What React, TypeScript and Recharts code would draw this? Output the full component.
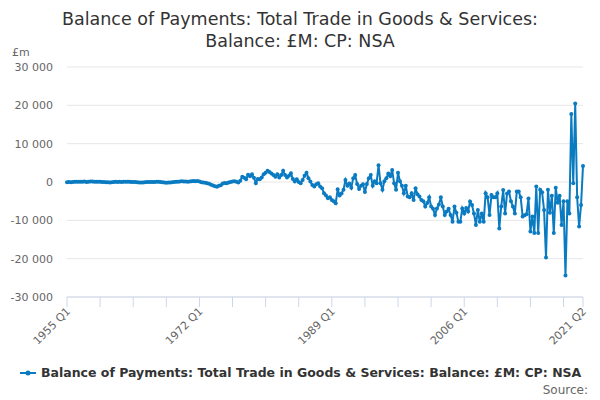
import { LineChart, Line, XAxis, YAxis, CartesianGrid } from 'recharts'

const FONT = '"DejaVu Sans", Verdana, sans-serif'
const BLUE = '#0a7bc1'
const AXIS = '#ccd6eb'

const TITLE = ['Balance of Payments: Total Trade in Goods & Services:', 'Balance: £M: CP: NSA']
const SERIES_NAME = 'Balance of Payments: Total Trade in Goods & Services: Balance: £M: CP: NSA'

// quarterly balance, £m, 1955 Q1 .. 2021 Q2
const balance = [
  -60, 20, -40, 10, // 1955
  50, 80, 40, 90, // 1956
  60, 110, 30, 70, // 1957
  120, 150, 60, 90, // 1958
  40, 80, -10, 20, // 1959
  -80, -50, -120, -60, // 1960
  -30, 40, 20, 60, // 1961
  30, 80, 50, 40, // 1962
  60, 30, -20, 10, // 1963
  -90, -120, -150, -100, // 1964
  -40, 20, 10, -20, // 1965
  10, -30, 60, 40, // 1966
  20, -60, -130, -180, // 1967
  -160, -120, -70, 10, // 1968
  40, 90, 130, 180, // 1969
  120, 160, 60, 140, // 1970
  210, 280, 200, 260, // 1971
  120, -80, -150, -200, // 1972
  -300, -450, -700, -900, // 1973
  -1100, -1250, -1000, -850, // 1974
  -400, -250, -300, -150, // 1975
  0, 150, 200, 50, // 1976
  -100, 350, 1400, 1100, // 1977
  700, 1900, 1500, 2000, // 1978
  1100, -300, 800, 700, // 1979
  1200, 2000, 2400, 2950, // 1980
  2600, 2200, 1800, 1400, // 1981
  2000, 1200, 1800, 2950, // 1982
  1800, 1200, 1600, 2270, // 1983
  800, 100, 700, 0, // 1984
  -350, 500, 1650, 2440, // 1985
  1000, 100, -800, -1200, // 1986
  -600, -350, -1200, -1650, // 1987
  -2950, -3500, -4250, -4000, // 1988
  -4700, -5000, -5560, -1900, // 1989
  -3500, -3000, -2000, 500, // 1990
  -1000, -400, -1500, 1000, // 1991
  1800, -500, -1800, -1000, // 1992
  -600, -2600, -500, 1000, // 1993
  1800, -1000, 200, -300, // 1994
  4400, -300, -2000, 200, // 1995
  1000, 2200, 1500, 3100, // 1996
  -350, -2000, 2400, 200, // 1997
  -1000, -2950, -1000, -3800, // 1998
  -4000, -2950, -4700, -1650, // 1999
  -3200, -3800, -4700, -5000, // 2000
  -6400, -5500, -4000, -6400, // 2001
  -7000, -8600, -6900, -5900, // 2002
  -4000, -6400, -8600, -7700, // 2003
  -7000, -8600, -10360, -6400, // 2004
  -8000, -10400, -10400, -6900, // 2005
  -8200, -6800, -7700, -5100, // 2006
  -6000, -8200, -11200, -7300, // 2007
  -10400, -8200, -10400, -2950, // 2008
  -4000, -8600, -3400, -4000, // 2009
  -4000, -2950, -12100, -6400, // 2010
  -2100, -8200, -3000, -2500, // 2011
  -5000, -6400, -8200, -2500, // 2012
  -2500, -4000, -9000, -8700, // 2013
  -8400, -4300, -12900, -9000, // 2014
  -13300, -1200, -13300, -2000, // 2015
  -2700, -7300, -19700, -2000, // 2016
  -8000, -3600, -13300, -1500, // 2017
  -5400, -3600, -11200, -5000, // 2018
  -24400, -5000, -8200, 17750, // 2019
  -350, 20500, -4000, -11600, // 2020
  -6000, 4200, // 2021
]

const START_YEAR = 1955
const quarters = balance.map((_, i) => `${START_YEAR + Math.floor(i / 4)} Q${(i % 4) + 1}`)

const xTicks = [0, 17, 34, 51, 68, 85, 102, 119, 136, 153, 170, 187, 204, 221, 238, 255, 265]
const labelledTicks = [0, 68, 136, 204, 265]
const yTicks = [-30000, -20000, -10000, 0, 10000, 20000, 30000]

const data = balance.map((v, i) => ({ i, quarter: quarters[i], balance: v }))

const fmt = (v: number) => {
  const s = String(Math.abs(v)).replace(/\B(?=(\d{3})+(?!\d))/g, ' ')
  return v < 0 ? '-' + s : s
}

function XTick(props: any) {
  const { x, y, payload } = props
  if (!labelledTicks.includes(payload.value)) return null
  return (
    <text
      x={x + 4}
      y={y + 3}
      transform={`rotate(-45, ${x + 4}, ${y + 3})`}
      textAnchor="end"
      fill="#666"
      fontSize={11}
      fontFamily={FONT}
    >
      {quarters[payload.value]}
    </text>
  )
}

export default function App() {
  return (
    <div style={{ position: 'absolute', left: 0, top: 0, width: 600, height: 400, background: '#fff', fontFamily: FONT }}>
      <svg width={600} height={60} style={{ position: 'absolute', left: 0, top: 0 }}>
        <text x={300} y={25} textAnchor="middle" fontSize={17.5} fill="#333" fontFamily={FONT}>{TITLE[0]}</text>
        <text x={300} y={47} textAnchor="middle" fontSize={17.5} fill="#333" fontFamily={FONT}>{TITLE[1]}</text>
      </svg>
      <LineChart
        width={600}
        height={400}
        data={data}
        margin={{ top: 67, right: 17, left: 7, bottom: 43 }}
      >
        <CartesianGrid vertical={false} stroke="#e6e6e6" />
        <XAxis
          dataKey="i"
          type="number"
          domain={[0, 265]}
          ticks={xTicks}
          interval={0}
          height={60}
          tickSize={10}
          stroke={AXIS}
          tickLine={{ stroke: AXIS }}
          axisLine={{ stroke: AXIS }}
          tick={<XTick />}
        />
        <YAxis
          width={60}
          domain={[-30000, 30000]}
          ticks={yTicks}
          interval={0}
          axisLine={false}
          tickLine={false}
          tickSize={0}
          tickMargin={14}
          tickFormatter={fmt}
          tick={{ fill: '#666', fontSize: 11, fontFamily: FONT }}
        />
        <Line
          type="linear"
          dataKey="balance"
          stroke={BLUE}
          strokeWidth={2}
          dot={{ r: 2, fill: BLUE, stroke: BLUE, strokeWidth: 0 }}
          activeDot={false}
          isAnimationActive={false}
        />
      </LineChart>
      <svg width={600} height={400} style={{ position: 'absolute', left: 0, top: 0, pointerEvents: 'none' }}>
        <text x={12} y={56} fontSize={11} fill="#666" fontFamily={FONT}>£m</text>
        <line x1={20} y1={373} x2={36} y2={373} stroke={BLUE} strokeWidth={2} />
        <circle cx={28} cy={373} r={2.5} fill={BLUE} />
        <text x={41} y={377} fontSize={12.5} fontWeight="bold" fill="#333" fontFamily={FONT}>{SERIES_NAME}</text>
        <text x={588} y={394} textAnchor="end" fontSize={12} fill="#666" fontFamily={FONT}>Source:</text>
      </svg>
    </div>
  )
}
